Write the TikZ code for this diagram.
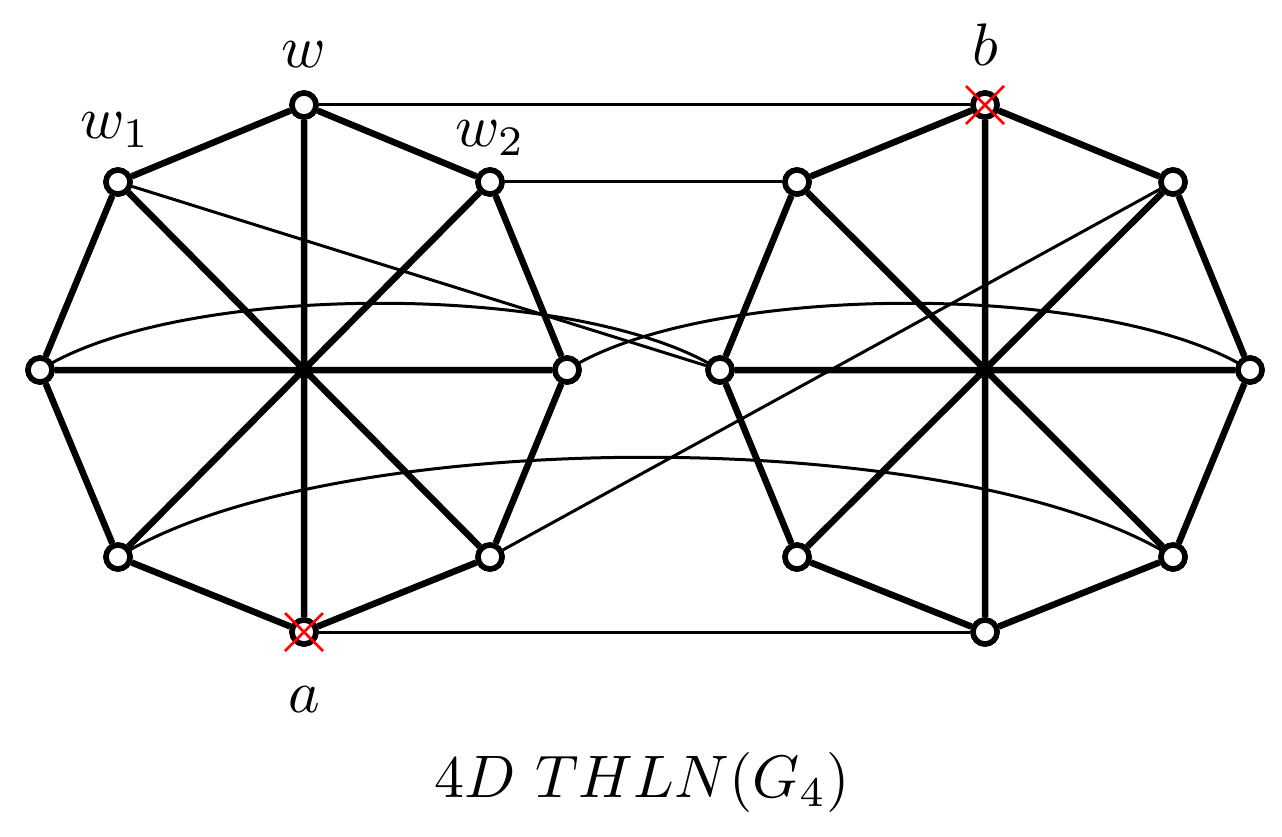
\documentclass[tikz,border=0pt]{standalone}
\newcommand{\bigtxt}[1]{\scalebox{6}{#1}}
\begin{document}
\begin{tikzpicture}[x=1pt,y=-1pt,
  v/.style={circle,draw,fill=white,line width=5.5pt,minimum size=24pt,inner sep=0pt},
  thick edge/.style={line width=6.5pt},
  thin edge/.style={line width=3pt},
  lab/.style={inner sep=0pt}]
\useasboundingbox (0,0) rectangle (1282,837);
\node[v] (L0) at (304,105) {};
\node[v] (L1) at (490,182) {};
\node[v] (L2) at (567,370) {};
\node[v] (L3) at (490,557) {};
\node[v] (L4) at (304,632) {};
\node[v] (L5) at (118,557) {};
\node[v] (L6) at (40,370) {};
\node[v] (L7) at (118,182) {};
\node[v] (R0) at (985,105) {};
\node[v] (R1) at (1173,182) {};
\node[v] (R2) at (1250,370) {};
\node[v] (R3) at (1173,557) {};
\node[v] (R4) at (985,632) {};
\node[v] (R5) at (797,557) {};
\node[v] (R6) at (720,370) {};
\node[v] (R7) at (797,182) {};
% thin edges
\draw[thin edge] (L0) -- (R0);
\draw[thin edge] (L1) -- (R7);
\draw[thin edge] (L4) -- (R4);
\draw[thin edge] (L7) -- (R6);
\draw[thin edge] (R1) -- (L3);
\draw[thin edge] (L6.center) .. controls (180,281) and (580,281) .. (R6.center);
\draw[thin edge] (L2.center) .. controls (707,281) and (1110,281) .. (R2.center);
\draw[thin edge] (L5.center) .. controls (330,424) and (961,424) .. (R3.center);
% thick
\foreach \s in {L,R}{
  \draw[thick edge] (\s0)--(\s1)--(\s2)--(\s3)--(\s4)--(\s5)--(\s6)--(\s7)--(\s0);
  \draw[thick edge] (\s0)--(\s4) (\s1)--(\s5) (\s2)--(\s6) (\s3)--(\s7);
}
% redraw nodes on top
\foreach \n/\x/\y in {L0/304/105,L1/490/182,L2/567/370,L3/490/557,L4/304/632,L5/118/557,L6/40/370,L7/118/182,R0/985/105,R1/1173/182,R2/1250/370,R3/1173/557,R4/985/632,R5/797/557,R6/720/370,R7/797/182}
  \node[v] at (\x,\y) {};
\draw[red,line width=2.5pt] (L4.center)++(-19,-19) -- ++(38,38) (L4.center)++(19,-19) -- ++(-38,38);
\draw[red,line width=2.5pt] (R0.center)++(-19,-19) -- ++(38,38) (R0.center)++(19,-19) -- ++(-38,38);
\node[lab] (tw) at (304,55) {\bigtxt{$w$}};
\node[lab] (tw1) at (115,130) {\bigtxt{$w_1$}};
\node[lab] (tw2) at (490,138) {\bigtxt{$w_2$}};
\node[lab] (tb) at (985,45) {\bigtxt{$b$}};
\node[lab] (ta) at (304,700) {\bigtxt{$a$}};
\node[lab] (cap) at (642,782) {\bigtxt{$4D\ THLN(G_4)$}};
\end{tikzpicture}
\end{document}
